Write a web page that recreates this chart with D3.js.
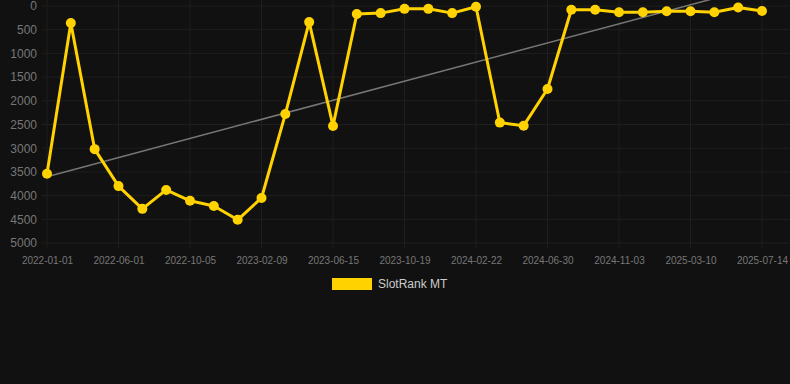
<!DOCTYPE html>
<html>
<head>
<meta charset="utf-8">
<script src="https://cdn.jsdelivr.net/npm/d3@7/dist/d3.min.js"></script>
<style>
  html, body { margin: 0; padding: 0; background: #111111; }
  #chart { width: 790px; height: 384px; }
  text { font-family: "Liberation Sans", Arial, sans-serif; }
</style>
</head>
<body>
<div id="chart"></div>
<script>
const dates = [
  "2022-01-01", "2022-02-20", "2022-04-10", "2022-06-01", "2022-07-13",
  "2022-08-24", "2022-10-05", "2022-11-16", "2022-12-28", "2023-02-09",
  "2023-03-23", "2023-05-04", "2023-06-15", "2023-07-27", "2023-09-07",
  "2023-10-19", "2023-11-30", "2024-01-11", "2024-02-22", "2024-04-04",
  "2024-05-17", "2024-06-30", "2024-08-11", "2024-09-22", "2024-11-03",
  "2024-12-15", "2025-01-26", "2025-03-10", "2025-04-21", "2025-06-02",
  "2025-07-14",
];
const ranks = [
  3540, 360, 3020, 3800, 4280, 3880, 4110, 4220, 4510, 4050,
  2280, 340, 2530, 170, 150, 60, 60, 150, 15, 2460,
  2525, 1750, 80, 80, 130, 130, 110, 110, 130, 30,
  105,
];
const tickLabels = [
  "2022-01-01", "2022-06-01", "2022-10-05", "2023-02-09", "2023-06-15",
  "2023-10-19", "2024-02-22", "2024-06-30", "2024-11-03", "2025-03-10",
  "2025-07-14",
];
const yTicks = [0, 500, 1000, 1500, 2000, 2500, 3000, 3500, 4000, 4500, 5000];
const seriesName = "SlotRank MT";

const W = 790, H = 384;
const M = { top: 6, left: 47, right: 28, bottom: 141 };
const YELLOW = "#ffd200";

const svg = d3.select("#chart").append("svg")
  .attr("width", W).attr("height", H)
  .attr("viewBox", [0, 0, W, H]);

const x = d3.scalePoint()
  .domain(dates)
  .range([M.left, W - M.right]);

const y = d3.scaleLinear()
  .domain([0, 5000])
  .range([M.top, H - M.bottom]);

// grid
const gGrid = svg.append("g").attr("class", "grid");
yTicks.forEach((t) => {
  gGrid.append("line")
    .attr("x1", 42).attr("x2", W)
    .attr("y1", y(t)).attr("y2", y(t))
    .attr("stroke", "#1f1f1f").attr("stroke-width", 1);
});
tickLabels.forEach((d) => {
  gGrid.append("line")
    .attr("x1", x(d)).attr("x2", x(d))
    .attr("y1", 0).attr("y2", y(5000) + 6)
    .attr("stroke", "#1f1f1f").attr("stroke-width", 1);
});

// axes
const yAxis = svg.append("g")
  .attr("transform", `translate(${M.left - 10},0)`)
  .call(d3.axisLeft(y).tickValues(yTicks).tickSize(0).tickPadding(0).tickFormat(d3.format("d")));
yAxis.select(".domain").remove();
yAxis.selectAll("text").attr("fill", "#777").attr("font-size", 12);

const xAxis = svg.append("g")
  .attr("transform", `translate(0,${y(5000) + 10})`)
  .call(d3.axisBottom(x).tickValues(tickLabels).tickSize(0).tickPadding(4));
xAxis.select(".domain").remove();
xAxis.selectAll("text").attr("fill", "#777").attr("font-size", 10);

// linear trend (least squares over point index)
const n = ranks.length;
const mx = d3.mean(ranks, (_, i) => i);
const my = d3.mean(ranks);
const slope = d3.sum(ranks, (v, i) => (i - mx) * (v - my)) /
  d3.sum(ranks, (_, i) => (i - mx) * (i - mx));
const icpt = my - slope * mx;
svg.append("line")
  .attr("x1", x(dates[0])).attr("y1", y(icpt))
  .attr("x2", x(dates[n - 1])).attr("y2", y(icpt + slope * (n - 1)))
  .attr("stroke", "#777").attr("stroke-width", 1.5);

// series
const line = d3.line()
  .x((d, i) => x(dates[i]))
  .y((d) => y(d));
svg.append("path")
  .datum(ranks)
  .attr("d", line)
  .attr("fill", "none")
  .attr("stroke", YELLOW)
  .attr("stroke-width", 3)
  .attr("stroke-linejoin", "round");

svg.append("g").selectAll("circle")
  .data(ranks)
  .join("circle")
  .attr("cx", (d, i) => x(dates[i]))
  .attr("cy", (d) => y(d))
  .attr("r", 5)
  .attr("fill", YELLOW);

// legend
const lg = svg.append("g").attr("transform", "translate(332,278)");
lg.append("rect").attr("width", 40).attr("height", 12).attr("fill", YELLOW);
lg.append("text")
  .attr("x", 46).attr("y", 6)
  .attr("dominant-baseline", "central")
  .attr("fill", "#cccccc").attr("font-size", 12)
  .text(seriesName);
</script>
</body>
</html>
